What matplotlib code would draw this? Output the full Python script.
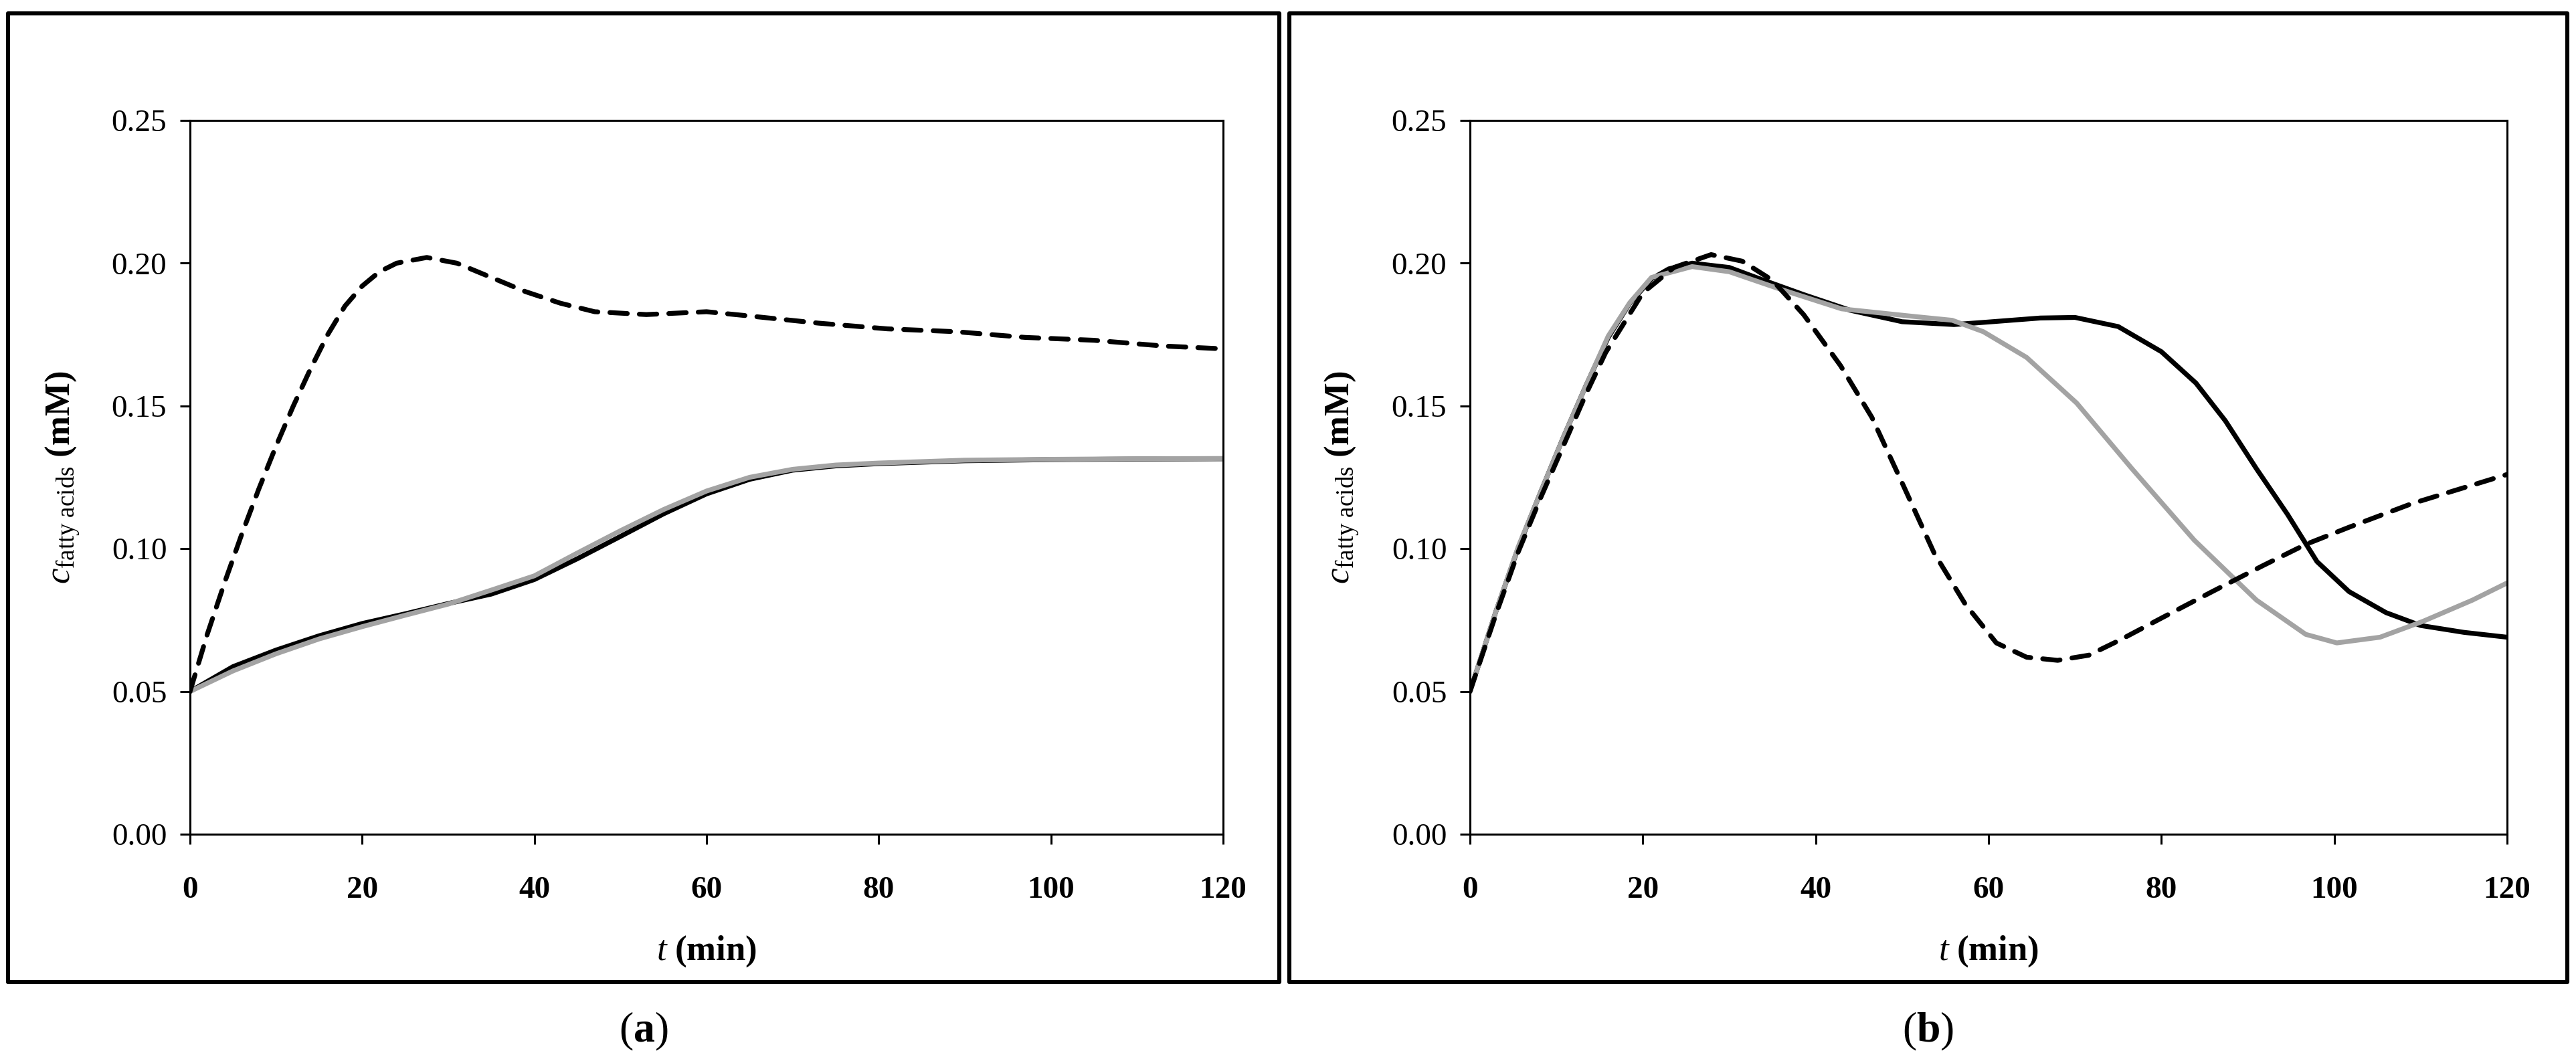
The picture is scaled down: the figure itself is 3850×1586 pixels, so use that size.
import matplotlib
matplotlib.use("Agg")
import matplotlib.pyplot as plt
from matplotlib.patches import Rectangle

plt.rcParams['font.family'] = ['Liberation Serif', 'DejaVu Serif']
plt.rcParams['mathtext.fontset'] = 'custom'
plt.rcParams['mathtext.rm'] = 'Liberation Serif'
plt.rcParams['mathtext.it'] = 'Liberation Serif:italic'
plt.rcParams['mathtext.bf'] = 'Liberation Serif:bold'

# ---- panel (a) ----
a_t_dash = [0, 2, 4, 6, 8, 10, 12, 14, 16, 18, 20, 22, 24, 27.5, 31, 35, 39, 43, 47,
            53, 60, 65, 73, 81, 89, 97, 105, 113, 120]
a_dash = [0.050, 0.070, 0.088, 0.105, 0.121, 0.136, 0.150, 0.163, 0.175, 0.185, 0.192,
          0.197, 0.200, 0.202, 0.200, 0.195, 0.190, 0.186, 0.183, 0.182, 0.183, 0.1815,
          0.179, 0.177, 0.176, 0.174, 0.173, 0.171, 0.170]
a_t = [0, 5, 10, 15, 20, 25, 30, 35, 40, 45, 50, 55, 60, 65, 70, 75, 80, 90, 100, 110, 120]
a_black = [0.050, 0.0587, 0.0645, 0.0695, 0.0738, 0.0772, 0.0808, 0.0841, 0.0892, 0.0965,
           0.1043, 0.1122, 0.1192, 0.1243, 0.1275, 0.1290, 0.1298, 0.1308, 0.1312, 0.1314,
           0.1315]
a_grey = [0.050, 0.0572, 0.0632, 0.0684, 0.0727, 0.0767, 0.0806, 0.0855, 0.0905, 0.0985,
          0.1063, 0.1137, 0.1202, 0.1250, 0.1278, 0.1293, 0.1300, 0.1310, 0.1313, 0.1315,
          0.1316]

# ---- panel (b) ----
b_t_black = [0, 3, 5.6, 8.2, 10.8, 13.4, 16, 18.5, 21, 23, 25.7, 30, 34, 38.6, 44, 50, 56,
             60, 66, 70, 75, 80, 84, 87.4, 91, 94.6, 98, 101.7, 106, 110, 115, 120]
b_black = [0.050, 0.078, 0.1005, 0.120, 0.139, 0.157, 0.174, 0.186, 0.1945, 0.198, 0.200,
           0.1985, 0.194, 0.189, 0.1835, 0.1795, 0.1785, 0.1794, 0.1808, 0.1810, 0.1778,
           0.169, 0.158, 0.1448, 0.128, 0.112, 0.0955, 0.085, 0.0776, 0.0731, 0.0707, 0.0690]
b_t_grey = [0, 3, 5.6, 8.2, 10.8, 13.4, 16, 18.5, 21, 25.7, 30, 35.8, 43, 51.5, 55.8, 59.4,
            64.4, 70.2, 76.6, 83.8, 91, 96.7, 100.3, 105.3, 110.3, 116, 120]
b_grey = [0.050, 0.078, 0.1008, 0.120, 0.139, 0.157, 0.1745, 0.1862, 0.1950, 0.1988, 0.197,
          0.191, 0.184, 0.1813, 0.180, 0.176, 0.167, 0.151, 0.128, 0.103, 0.082, 0.070,
          0.067, 0.069, 0.0746, 0.082, 0.088]
b_t_dash = [0, 3, 5.6, 8.2, 10.8, 13.4, 15.7, 20, 23.6, 27.9, 31.5, 35, 38.6, 42.9, 46.5,
            50.1, 53.7, 57.3, 60.9, 64.4, 68, 71.6, 75.2, 80.2, 85.9, 91.7, 96.7, 101.7,
            108.9, 120]
b_dash = [0.050, 0.077, 0.099, 0.118, 0.136, 0.154, 0.1687, 0.1896, 0.1985, 0.203, 0.2007,
          0.194, 0.182, 0.164, 0.146, 0.1224, 0.0985, 0.0806, 0.067, 0.062, 0.0609, 0.0627,
          0.068, 0.076, 0.085, 0.094, 0.1015, 0.1075, 0.1157, 0.126]

x_ticks = [0, 20, 40, 60, 80, 100, 120]
y_ticks = [0.00, 0.05, 0.10, 0.15, 0.20, 0.25]
grey = '#a3a3a3'

W, H = 3850, 1586
fig = plt.figure(figsize=(W / 100, H / 100), dpi=100)


def fx(px):
    return px / W


def fy(py):
    return 1 - py / H


# outer frames
for x0, x1 in [(12, 1912), (1927, 3837)]:
    fig.patches.append(Rectangle((fx(x0), fy(1468)), fx(x1 - x0), (1468 - 20) / H,
                                 transform=fig.transFigure, fill=False, lw=4.4,
                                 ec='black', joinstyle='round'))

ax_a = fig.add_axes([fx(284), fy(1247), fx(1828 - 284), (1247 - 180) / H])
ax_b = fig.add_axes([fx(2197), fy(1247), fx(3747 - 2197), (1247 - 180) / H])

lw = 5.2
ax_a.plot(a_t, a_black, color='black', lw=lw, solid_capstyle='round')
ax_a.plot(a_t, a_grey, color=grey, lw=lw, solid_capstyle='round')
ax_a.plot(a_t_dash, a_dash, color='black', lw=lw, dashes=(3.6, 2.5), dash_capstyle='round')

ax_b.plot(b_t_black, b_black, color='black', lw=lw, solid_capstyle='round')
ax_b.plot(b_t_grey, b_grey, color=grey, lw=lw, solid_capstyle='round')
ax_b.plot(b_t_dash, b_dash, color='black', lw=lw, dashes=(3.6, 2.5), dash_capstyle='round')

for ax in (ax_a, ax_b):
    ax.set_xlim(0, 120)
    ax.set_ylim(0, 0.25)
    ax.set_xticks(x_ticks)
    ax.set_yticks(y_ticks)
    ax.set_xticklabels([str(v) for v in x_ticks], fontweight='bold')
    ax.set_yticklabels(['%.2f' % v for v in y_ticks])
    for s in ax.spines.values():
        s.set_linewidth(2.2)
    ax.tick_params(direction='out', length=11, width=2.2, labelsize=34,
                   top=False, right=False)
    ax.tick_params(axis='x', pad=34)
    ax.tick_params(axis='y', pad=14)
    ax.set_xlabel(r'$\mathit{t}\ \mathbf{(min)}$', fontsize=38)
    ax.xaxis.set_label_coords(0.5, -0.14)
    ax.xaxis.label.set_va('top')
    ax.set_ylabel(r'$\mathit{c}_{\mathrm{fatty\ acids}}\ \mathbf{(mM)}$', fontsize=38)
    ax.yaxis.set_label_coords(-0.105, 0.5)

fig.text(fx(962), fy(1542), r'($\mathbf{a}$)', fontsize=46, ha='center', va='center')
fig.text(fx(2882), fy(1542), r'($\mathbf{b}$)', fontsize=46, ha='center', va='center')

fig.savefig('out.png', dpi=100)
